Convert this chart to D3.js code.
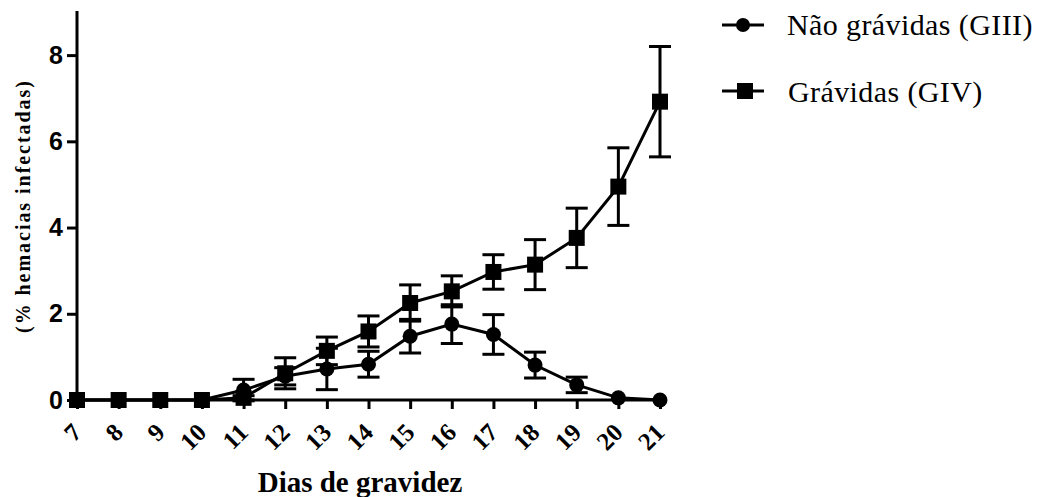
<!DOCTYPE html>
<html><head><meta charset="utf-8">
<script src="https://cdn.jsdelivr.net/npm/d3@7/dist/d3.min.js"></script>
<style>body{margin:0;background:#fff}</style>
</head><body>
<svg id="c" width="1045" height="497"></svg>
<script>
const days = [7,8,9,10,11,12,13,14,15,16,17,18,19,20,21];
const naoMean = [0,0,0,0,0.23,0.55,0.72,0.83,1.48,1.76,1.52,0.81,0.35,0.05,0];
const naoErr  = [0,0,0,0,0.25,0.2,0.48,0.3,0.39,0.45,0.46,0.3,0.18,0.02,0];
const gravMean = [0,0,0,0,0.05,0.62,1.14,1.59,2.25,2.52,2.97,3.14,3.76,4.95,6.92];
const gravErr  = [0,0,0,0,0.05,0.36,0.32,0.36,0.42,0.36,0.4,0.58,0.69,0.9,1.28];
const yTicks = [0,2,4,6,8];
const legendLabels = ["Não grávidas (GIII)","Grávidas (GIV)"];

const svg = d3.select("#c");
const x = d3.scaleLinear().domain([7,21]).range([77,660]);
const y = d3.scaleLinear().domain([0,9]).range([400,12]);
const serif = "Liberation Serif, Times New Roman, serif";

// axes
const yAx = svg.append("g").attr("transform","translate(77,0)")
  .call(d3.axisLeft(y).tickValues(yTicks).tickSize(10).tickPadding(4).tickSizeOuter(0));
yAx.select(".domain").attr("stroke","#000").attr("stroke-width",3).attr("d","M0,11V401");
yAx.selectAll(".tick line").attr("stroke-width",3);
yAx.selectAll(".tick text").attr("font-family","Liberation Sans, Arial, sans-serif").attr("font-weight","bold").attr("font-size",25).attr("fill","#000");

const xAx = svg.append("g").attr("transform","translate(0,400)")
  .call(d3.axisBottom(x).tickValues(days).tickFormat(d3.format("d")).tickSize(9).tickSizeOuter(0));
xAx.select(".domain").attr("stroke-width",3).attr("d","M75.5,0H662");
xAx.selectAll(".tick line").attr("stroke-width",3);
xAx.selectAll(".tick text").remove();

svg.append("g").selectAll("text").data(days).enter().append("text")
  .attr("font-family",serif).attr("font-weight","bold").attr("font-size",25).attr("fill","#000")
  .attr("text-anchor","end")
  .attr("transform",d=>`translate(${x(d)+6},434) rotate(-45)`)
  .text(d=>d);

function series(mean, err, kind){
  const g = svg.append("g");
  const line = d3.line().x((d,i)=>x(days[i])).y(d=>y(d));
  g.append("path").datum(mean).attr("d",line).attr("fill","none").attr("stroke","#000").attr("stroke-width",3);
  mean.forEach((m,i)=>{
    if(err[i]<=0.04) return;
    const cx = x(days[i]), t = y(m+err[i]), b = y(m-err[i]);
    g.append("line").attr("x1",cx).attr("x2",cx).attr("y1",t).attr("y2",b).attr("stroke","#000").attr("stroke-width",3);
    [t,b].forEach(v=>g.append("line").attr("x1",cx-11).attr("x2",cx+11).attr("y1",v).attr("y2",v).attr("stroke","#000").attr("stroke-width",3));
  });
  mean.forEach((m,i)=>{
    const cx = x(days[i]), cy = y(m);
    if(kind==="circle") g.append("circle").attr("cx",cx).attr("cy",cy).attr("r",7.5).attr("fill","#000");
    else g.append("rect").attr("x",cx-8).attr("y",cy-8).attr("width",16).attr("height",16).attr("fill","#000");
  });
}
series(naoMean, naoErr, "circle");
series(gravMean, gravErr, "square");

// axis titles
svg.append("text").attr("x",360).attr("y",492).attr("text-anchor","middle")
  .attr("font-family",serif).attr("font-weight","bold").attr("font-size",29).text("Dias de gravidez");
svg.append("text").attr("transform","translate(30,207) rotate(-90)").attr("text-anchor","middle")
  .attr("font-family",serif).attr("font-weight","bold").attr("font-size",20)
  .attr("textLength",252).attr("lengthAdjust","spacing").text("(% hemacias infectadas)");

// legend
const leg = [[25,"circle",787,35],[91,"square",788,102]];
leg.forEach(([ly,k,tx,ty],i)=>{
  svg.append("line").attr("x1",722).attr("x2",764).attr("y1",ly).attr("y2",ly).attr("stroke","#000").attr("stroke-width",3);
  if(k==="circle") svg.append("circle").attr("cx",743).attr("cy",ly).attr("r",7).attr("fill","#000");
  else svg.append("rect").attr("x",737).attr("y",ly-8).attr("width",16).attr("height",16).attr("fill","#000");
  svg.append("text").attr("x",tx).attr("y",ty).attr("font-family",serif)
    .attr("font-size",30).attr("letter-spacing",0.4).attr("fill","#000").text(legendLabels[i]);
});
</script>
</body></html>
